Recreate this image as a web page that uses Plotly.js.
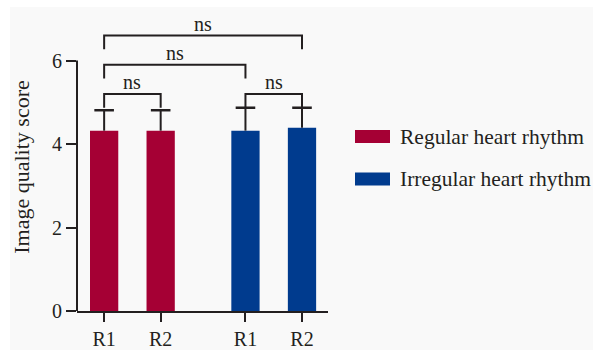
<!DOCTYPE html>
<html>
<head>
<meta charset="utf-8">
<script src="https://cdn.plot.ly/plotly-3.0.1.min.js"></script>
<style>html,body{margin:0;padding:0;background:#ffffff;}#chart{width:593px;height:350px;}</style>
</head>
<body>
<div id="chart"></div>
<script>
// ---- data ----
const seriesNames = ["Regular heart rhythm", "Irregular heart rhythm"];
const tickLabels = ["R1", "R2"];
const regularMean = [4.32, 4.32];
const regularSD = [0.49, 0.49];
const irregularMean = [4.32, 4.39];
const irregularSD = [0.55, 0.48];
// significance comparisons (indices into the four bars, bracket height, label)
const compFrom = [0, 2, 0, 0];
const compTo = [1, 3, 2, 3];
const compHeight = [5.2, 5.2, 5.9, 6.6];
const compLabel = ["ns", "ns", "ns", "ns"];

// ---- styling ----
const colors = ["#a50034", "#003b8e"];
const ink = "#231f20";
const font = "Liberation Serif, Times New Roman, serif";
const groupGap = 1.5;
const legDrop = 0.33;

const means = [regularMean, irregularMean];
const sds = [regularSD, irregularSD];
const xPos = g => tickLabels.map((_, i) => 1 + i + g * (tickLabels.length - 1 + groupGap));

const traces = [];
const allX = [], allTop = [];
means.forEach((m, g) => {
  const xs = xPos(g);
  traces.push({
    type: "bar", x: xs, y: m, width: 0.5, name: seriesNames[g],
    marker: {color: colors[g], line: {width: 0}}, showlegend: false, hoverinfo: "y"
  });
  xs.forEach((x, i) => { allX.push(x); allTop.push(m[i] + sds[g][i]); });
});

// error bar stems and caps (upward only)
const stemX = [], stemY = [];
means.forEach((m, g) => {
  xPos(g).forEach((x, i) => {
    stemX.push(x, x, null);
    stemY.push(m[i], m[i] + sds[g][i], null);
  });
});
traces.push({type: "scatter", mode: "lines", x: stemX, y: stemY,
  line: {color: ink, width: 2}, showlegend: false, hoverinfo: "skip"});
traces.push({type: "scatter", mode: "markers", x: allX, y: allTop,
  marker: {symbol: "line-ew", size: 14, line: {color: ink, width: 2.5}},
  showlegend: false, hoverinfo: "skip"});

// brackets
const annotations = [];
compFrom.forEach((a, k) => {
  const b = compTo[k];
  const h = compHeight[k];
  traces.push({type: "scatter", mode: "lines",
    x: [allX[a], allX[a], allX[b], allX[b]],
    y: [h - legDrop, h, h, h - legDrop],
    line: {color: ink, width: 2}, showlegend: false, hoverinfo: "skip", cliponaxis: false});
  annotations.push({x: (allX[a] + allX[b]) / 2, y: h, xref: "x", yref: "y",
    text: compLabel[k], showarrow: false, yanchor: "bottom", yshift: -1,
    font: {family: font, size: 20, color: ink}});
});

// manual legend (pixel -> paper)
const L = 77, R = 328, T = 23, B = 311;
const px = x => (x - L) / (R - L);
const py = y => (B - y) / (B - T);
const shapes = [
  {type: "rect", xref: "paper", yref: "paper", x0: px(10), x1: px(600), y0: py(7), y1: py(360),
   fillcolor: "#f9f9f9", line: {width: 0}, layer: "below"},
  {type: "line", xref: "paper", yref: "y", x0: 0, x1: 0, y0: 0, y1: 6,
   line: {color: ink, width: 2}}
];
const legendY = [136.5, 179];
seriesNames.forEach((n, g) => {
  shapes.push({type: "rect", xref: "paper", yref: "paper",
    x0: px(355), x1: px(390), y0: py(legendY[g] - 6.5), y1: py(legendY[g] + 6.5),
    fillcolor: colors[g], line: {width: 0}});
  annotations.push({xref: "paper", yref: "paper", x: px(398), y: py(legendY[g]),
    xanchor: "left", yanchor: "middle", text: n, showarrow: false,
    font: {family: font, size: 21.5, color: ink}});
});

const layout = {
  width: 593, height: 350,
  margin: {l: L, r: 593 - R, t: T, b: 350 - B, pad: 0},
  paper_bgcolor: "#ffffff", plot_bgcolor: "rgba(0,0,0,0)",
  showlegend: false,
  font: {family: font, color: ink, size: 18},
  xaxis: {
    range: [0.52, 4.96], showgrid: false, zeroline: false,
    showline: true, linecolor: ink, linewidth: 2,
    tickmode: "array", tickvals: allX, ticktext: tickLabels.concat(tickLabels),
    ticks: "outside", ticklen: 9, tickwidth: 2, tickcolor: ink,
    tickfont: {family: font, size: 20, color: ink}, fixedrange: true
  },
  yaxis: {
    range: [0, 6.9], showgrid: false, zeroline: false, showline: false,
    tickmode: "array", tickvals: [0, 2, 4, 6], ticktext: ["0", "2", "4", "6"],
    ticks: "outside", ticklen: 10, tickwidth: 2, tickcolor: ink,
    tickfont: {family: font, size: 20, color: ink},
    title: {text: "Image quality score", font: {family: font, size: 22, color: ink}, standoff: 16},
    fixedrange: true
  },
  shapes: shapes,
  annotations: annotations
};

Plotly.newPlot("chart", traces, layout, {displayModeBar: false, staticPlot: true});
</script>
</body>
</html>
